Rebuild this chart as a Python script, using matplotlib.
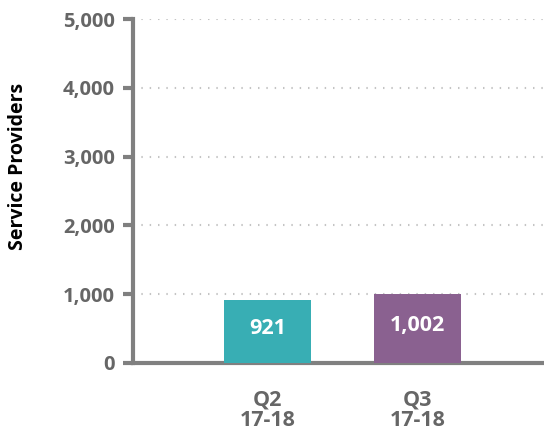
import matplotlib
matplotlib.use("Agg")
import matplotlib.pyplot as plt
from matplotlib.ticker import FuncFormatter

quarters = ["Q2\n17-18", "Q3\n17-18"]
providers = [921, 1002]
bar_colors = ["#38aeb4", "#8a6190"]

plt.rcParams['font.family'] = ['Open Sans', 'DejaVu Sans']

fig = plt.figure(figsize=(5.44, 4.34), dpi=100)
ax = fig.add_axes([0.2445, 0.1636, 0.7535, 0.7924])

x = range(len(quarters))
bars = ax.bar(x, providers, width=0.58, color=bar_colors, zorder=3)
for b, v in zip(bars, providers):
    ax.text(b.get_x() + b.get_width() / 2, v / 2 + 40, f"{v:,}", ha='center', va='center',
            color='white', fontsize=15.5, fontweight='bold', zorder=4)

ax.set_xlim(-0.897, 1.837)
ax.set_ylim(0, 5000)
ax.set_yticks(range(0, 5001, 1000))
ax.yaxis.set_major_formatter(FuncFormatter(lambda v, p: f"{int(v):,}"))
ax.set_xticks(list(x))
ax.set_xticklabels(quarters)

ax.grid(axis='y', color='#c4c4c4', linestyle=(0, (0.7, 3.3)), linewidth=1.5, zorder=0)
for s in ['top', 'right']:
    ax.spines[s].set_visible(False)
for s in ['left', 'bottom']:
    ax.spines[s].set_color('#808080')
    ax.spines[s].set_linewidth(3)

ax.tick_params(axis='y', length=7, width=3, color='#808080', labelsize=14.5,
               labelcolor='#666666', pad=6)
ax.tick_params(axis='x', length=0, labelsize=15.5, labelcolor='#666666', pad=19)
for lab in ax.get_yticklabels() + ax.get_xticklabels():
    lab.set_fontweight('bold')
for lab in ax.get_xticklabels():
    lab.set_linespacing(1.0)

ax.set_ylabel("Service Providers", fontsize=14, fontweight='bold', color='black')
ax.yaxis.set_label_coords(-0.256, 0.573)

fig.savefig("out.png", dpi=100)
